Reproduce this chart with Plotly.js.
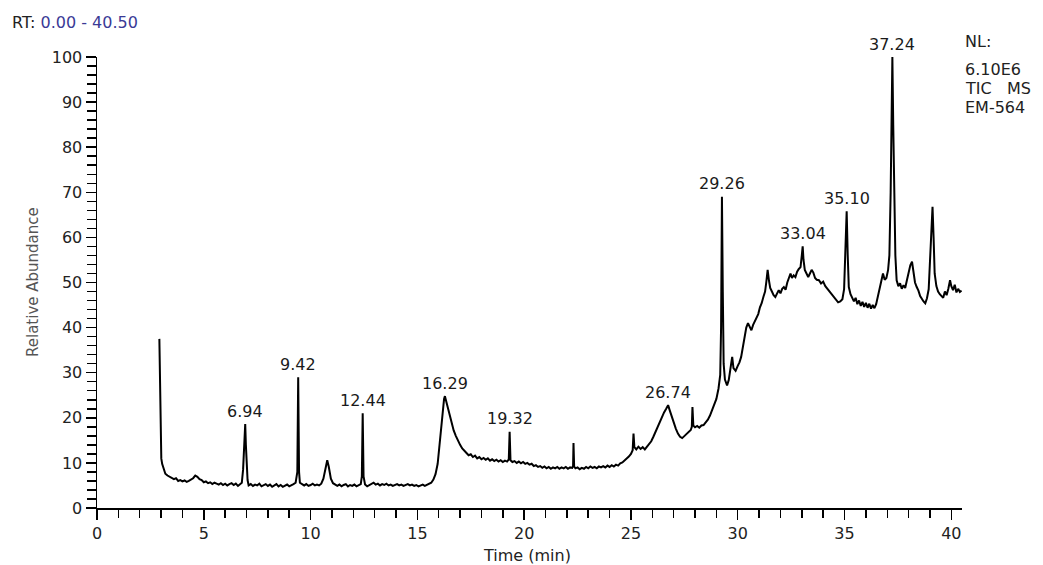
<!DOCTYPE html>
<html>
<head>
<meta charset="utf-8">
<script src="https://cdn.plot.ly/plotly-3.0.1.min.js"></script>
<style>
  html, body { margin: 0; padding: 0; background: #ffffff; }
  #chart { width: 1043px; height: 565px; }
</style>
</head>
<body>
<div id="chart"></div>
<script>
// Retention time (min) and relative abundance (%)
const rtTime = [
  2.92, 2.94, 2.96, 2.98, 3.01, 3.05, 3.10, 3.15, 3.20, 3.30, 3.40, 3.50, 3.60, 3.70, 3.80, 3.90,
  4.00, 4.10, 4.20, 4.30, 4.40, 4.50, 4.60, 4.70, 4.80, 4.90, 5.00, 5.10, 5.20, 5.30, 5.40, 5.50,
  5.60, 5.70, 5.80, 5.90, 6.00, 6.10, 6.20, 6.30, 6.40, 6.50, 6.60, 6.70, 6.78, 6.84, 6.88, 6.91,
  6.94, 6.97, 7.00, 7.05, 7.10, 7.20, 7.30, 7.40, 7.50, 7.60, 7.70, 7.80, 7.90, 8.00, 8.10, 8.20,
  8.30, 8.40, 8.50, 8.60, 8.70, 8.80, 8.90, 9.00, 9.10, 9.20, 9.30, 9.38, 9.42, 9.46, 9.50, 9.60,
  9.70, 9.80, 9.90, 10.00, 10.10, 10.20, 10.30, 10.40, 10.50, 10.60, 10.70, 10.78, 10.85, 10.95, 11.05, 11.15,
  11.25, 11.35, 11.45, 11.55, 11.65, 11.75, 11.85, 11.95, 12.05, 12.15, 12.25, 12.35, 12.40, 12.44, 12.48, 12.55,
  12.65, 12.75, 12.85, 12.95, 13.05, 13.15, 13.25, 13.35, 13.45, 13.55, 13.65, 13.75, 13.85, 13.95, 14.05, 14.15,
  14.25, 14.35, 14.45, 14.55, 14.65, 14.75, 14.85, 14.95, 15.05, 15.15, 15.25, 15.35, 15.45, 15.55, 15.65, 15.75,
  15.85, 15.95, 16.02, 16.08, 16.14, 16.20, 16.25, 16.29, 16.34, 16.40, 16.50, 16.60, 16.70, 16.80, 16.90, 17.00,
  17.10, 17.20, 17.30, 17.40, 17.50, 17.60, 17.70, 17.80, 17.90, 18.00, 18.10, 18.20, 18.30, 18.40, 18.50, 18.60,
  18.70, 18.80, 18.90, 19.00, 19.10, 19.20, 19.28, 19.32, 19.36, 19.45, 19.55, 19.65, 19.75, 19.85, 19.95, 20.05,
  20.15, 20.25, 20.35, 20.45, 20.55, 20.65, 20.75, 20.85, 20.95, 21.05, 21.15, 21.25, 21.35, 21.45, 21.55, 21.65,
  21.75, 21.85, 21.95, 22.05, 22.15, 22.25, 22.29, 22.31, 22.34, 22.40, 22.50, 22.60, 22.70, 22.80, 22.90, 23.00,
  23.10, 23.20, 23.30, 23.40, 23.50, 23.60, 23.70, 23.80, 23.90, 24.00, 24.10, 24.20, 24.30, 24.40, 24.50, 24.60,
  24.70, 24.80, 24.90, 25.00, 25.08, 25.12, 25.16, 25.25, 25.35, 25.45, 25.55, 25.65, 25.75, 25.85, 25.95, 26.05,
  26.15, 26.25, 26.35, 26.45, 26.55, 26.65, 26.74, 26.82, 26.90, 27.00, 27.10, 27.20, 27.30, 27.40, 27.50, 27.60,
  27.70, 27.80, 27.85, 27.88, 27.92, 28.00, 28.10, 28.20, 28.30, 28.40, 28.50, 28.60, 28.70, 28.80, 28.90, 29.00,
  29.10, 29.18, 29.22, 29.26, 29.30, 29.34, 29.40, 29.50, 29.58, 29.66, 29.74, 29.80, 29.90, 30.00, 30.08, 30.16,
  30.24, 30.32, 30.40, 30.48, 30.56, 30.64, 30.72, 30.80, 30.88, 30.96, 31.04, 31.12, 31.20, 31.28, 31.34, 31.40,
  31.46, 31.52, 31.60, 31.68, 31.76, 31.84, 31.92, 32.00, 32.08, 32.16, 32.24, 32.32, 32.40, 32.47, 32.54, 32.62,
  32.70, 32.78, 32.86, 32.94, 33.00, 33.04, 33.08, 33.14, 33.22, 33.30, 33.38, 33.46, 33.54, 33.62, 33.70, 33.80,
  33.90, 34.00, 34.10, 34.20, 34.30, 34.40, 34.50, 34.60, 34.70, 34.80, 34.90, 34.98, 35.03, 35.10, 35.15, 35.20,
  35.28, 35.36, 35.44, 35.52, 35.60, 35.68, 35.76, 35.84, 35.92, 36.00, 36.08, 36.16, 36.24, 36.32, 36.40, 36.48,
  36.56, 36.64, 36.72, 36.80, 36.88, 36.96, 37.04, 37.10, 37.16, 37.20, 37.24, 37.28, 37.32, 37.38, 37.44, 37.52,
  37.60, 37.68, 37.76, 37.84, 37.92, 38.00, 38.08, 38.16, 38.22, 38.30, 38.38, 38.46, 38.54, 38.62, 38.70, 38.78,
  38.86, 38.94, 39.00, 39.06, 39.12, 39.17, 39.22, 39.30, 39.38, 39.46, 39.54, 39.62, 39.70, 39.78, 39.86, 39.94,
  40.00, 40.08, 40.16, 40.24, 40.32, 40.40, 40.48
];
const relAbundance = [
  37.5, 30.0, 21.0, 14.0, 11.0, 9.8, 8.9, 8.2, 7.6, 7.2, 6.9, 6.6, 6.4, 6.6, 6.0, 6.2,
  5.9, 6.1, 5.8, 6.0, 6.3, 6.6, 7.2, 6.9, 6.4, 6.2, 5.7, 5.9, 5.5, 5.7, 5.3, 5.6,
  5.4, 5.2, 5.5, 5.1, 5.4, 5.0, 5.3, 5.5, 5.1, 5.4, 4.9, 5.2, 5.6, 8.5, 13.0, 16.0,
  18.6, 14.0, 9.0, 6.2, 5.0, 5.3, 4.9, 5.2, 5.0, 5.4, 4.8, 5.1, 5.3, 4.9, 5.2, 4.7,
  5.0, 5.3, 4.8, 5.1, 4.7, 4.9, 5.2, 4.8, 5.0, 5.3, 5.6, 8.0, 29.0, 8.0, 5.6, 5.2,
  5.0, 5.3, 4.9, 5.1, 5.4, 5.0, 5.2, 5.0, 5.4, 6.5, 9.0, 10.6, 9.2, 6.5, 5.5, 5.2,
  4.9, 5.2, 4.8, 5.1, 5.3, 4.8, 5.1, 4.9, 5.2, 4.8, 5.1, 5.3, 7.0, 21.0, 7.0, 5.2,
  4.8, 5.1, 5.3, 5.6, 5.2, 5.4, 5.0, 5.3, 5.1, 5.4, 5.0, 5.2, 4.9, 5.1, 5.3, 5.0,
  5.2, 4.9, 5.1, 5.3, 5.0, 5.2, 4.9, 5.1, 4.8, 5.0, 5.2, 4.9, 5.1, 5.3, 5.6, 6.3,
  7.5, 9.8, 13.0, 17.0, 20.0, 22.5, 24.2, 24.8, 23.8, 22.5, 20.5, 18.8, 17.2, 16.0, 14.8, 14.0,
  13.2, 12.6, 12.2, 11.7, 11.9, 11.3, 11.6, 11.0, 11.3, 10.8, 11.1, 10.7, 11.0, 10.5, 10.8, 10.4,
  10.7, 10.3, 10.6, 10.2, 10.5, 10.3, 10.8, 16.9, 10.6, 10.2, 10.4, 10.0, 10.3, 9.9, 10.2, 9.8,
  10.0, 9.6, 9.8, 9.3, 9.5, 9.1, 9.3, 8.9, 9.2, 8.8, 9.1, 8.7, 9.0, 8.8, 9.1, 8.7,
  9.0, 8.8, 9.1, 8.7, 9.0, 8.9, 9.3, 14.4, 9.2, 8.8, 9.0, 8.6, 8.9, 8.7, 9.1, 8.8,
  9.2, 8.9, 9.1, 8.8, 9.2, 9.0, 9.3, 9.0, 9.4, 9.1, 9.5, 9.2, 9.6, 9.4, 9.9, 10.1,
  10.5, 10.9, 11.4, 12.0, 12.8, 16.5, 13.5, 13.0, 13.6, 13.1, 13.5, 13.0, 13.6, 14.2, 14.8, 15.8,
  16.9, 18.2, 19.0, 20.3, 21.2, 22.0, 22.8, 21.6, 20.4, 19.0, 17.6, 16.5, 15.8, 15.5, 16.0, 16.4,
  16.8, 17.3, 18.0, 22.4, 18.3, 17.9, 18.2, 17.8, 18.3, 18.4, 19.0, 19.6, 20.5, 21.6, 22.8, 24.2,
  26.5, 29.5, 40.0, 69.0, 48.0, 32.0, 28.5, 27.2, 28.4, 30.5, 33.5, 31.0, 30.4, 31.5, 32.3, 33.5,
  35.8, 38.5, 40.0, 41.0, 40.2, 39.4, 40.6, 41.4, 42.1, 43.0, 44.5, 45.4, 46.8, 48.0, 50.2, 52.8,
  50.5, 48.8, 48.0, 47.2, 46.8, 47.5, 48.3, 47.6, 48.6, 49.0, 48.4, 50.0, 51.2, 52.0, 51.0, 51.6,
  51.2, 52.4, 53.0, 53.4, 56.0, 58.0, 55.0, 52.8, 52.0, 51.2, 52.0, 52.8, 52.2, 51.0, 50.6, 50.5,
  49.8, 50.2, 49.2, 48.6, 48.0, 47.2, 46.6, 46.1, 45.6, 45.8, 46.3, 48.5, 56.0, 65.8, 56.0, 49.0,
  47.4, 46.5, 45.8, 46.6, 45.2, 46.0, 44.8, 45.7, 44.6, 45.5, 44.4, 45.3, 44.2, 45.0, 44.3, 45.2,
  46.8, 48.5, 50.2, 52.0, 50.6, 51.0, 52.8, 56.0, 70.0, 85.0, 100.0, 85.0, 69.0, 56.0, 50.5, 49.2,
  49.8, 48.6, 49.4, 48.8, 50.5, 52.0, 53.8, 54.6, 52.5, 50.0, 49.0, 48.2, 47.0, 46.3, 45.8, 45.4,
  46.5, 48.5, 55.0, 62.0, 66.8, 60.0, 52.0, 49.2, 48.0, 47.4, 47.0, 46.6, 48.0, 47.2, 48.6, 50.5,
  49.2, 48.3, 49.5, 47.8, 48.6, 47.9, 48.2
];

// Labelled peaks
const peakRT = [6.94, 9.42, 12.44, 16.29, 19.32, 26.74, 29.26, 33.04, 35.10, 37.24];
const peakAbund = [18.6, 29.0, 21.0, 24.8, 16.9, 22.8, 69.0, 58.0, 65.8, 100.0];

// Header texts
const rtRangeLabel = "0.00 - 40.50";
const infoLines = ["NL:", "6.10E6", "TIC\u00a0\u00a0\u00a0MS", "EM-564"];
const infoLineY = [41.5, 69, 88.5, 107.5];  // pixel centres from top

const FONT = "DejaVu Sans, Arial, sans-serif";
const W = 1043, H = 565;
const L = 97, T = 57, B = 57;
const PW = 865, PH = H - T - B;
const R = W - L - PW;

const trace = {
  x: rtTime,
  y: relAbundance,
  type: "scatter",
  mode: "lines",
  line: { color: "#000000", width: 2 },
  hoverinfo: "x+y",
  showlegend: false
};

const annotations = [];
peakRT.forEach((rt, i) => {
  annotations.push({
    x: rt, y: peakAbund[i], xref: "x", yref: "y",
    text: rt.toFixed(2), showarrow: false,
    xanchor: "center", yanchor: "middle", yshift: 13,
    font: { family: FONT, size: 16, color: "#1a1a1a" }
  });
});
infoLines.forEach((t, i) => {
  annotations.push({
    x: (963 - L) / PW, y: (H - B - infoLineY[i]) / PH,
    xref: "paper", yref: "paper",
    text: t, showarrow: false, xanchor: "left", yanchor: "middle", align: "left",
    font: { family: FONT, size: 16, color: "#222222" }
  });
});
annotations.push({
  x: (32.5 - L) / PW, y: 0.5, xref: "paper", yref: "paper",
  text: "Relative Abundance", textangle: -90, showarrow: false,
  xanchor: "center", yanchor: "middle",
  font: { family: FONT, size: 15, color: "#555555" }
});
annotations.push({
  x: (527 - L) / PW, y: (H - B - 555) / PH, xref: "paper", yref: "paper",
  text: "Time (min)", showarrow: false, xanchor: "center", yanchor: "middle",
  font: { family: FONT, size: 16, color: "#222222" }
});

const layout = {
  width: W, height: H,
  margin: { l: L, r: R, t: T, b: B, pad: 0 },
  paper_bgcolor: "#ffffff", plot_bgcolor: "#ffffff",
  title: {
    text: "RT: <span style='color:#3a3a96'>" + rtRangeLabel + "</span>",
    xref: "container", yref: "container",
    x: 12 / W, xanchor: "left", y: 1 - 22 / H, yanchor: "middle",
    font: { family: FONT, size: 16, color: "#222222" }
  },
  xaxis: {
    range: [0, 40.5], showgrid: false, zeroline: false,
    showline: true, linecolor: "#000000", linewidth: 1.5,
    ticks: "outside", ticklen: 10, tickwidth: 1.5, tickcolor: "#000000",
    tick0: 0, dtick: 5,
    minor: { dtick: 1, ticks: "outside", ticklen: 8, tickwidth: 1.5, tickcolor: "#000000", showgrid: false },
    tickfont: { family: FONT, size: 16, color: "#222222" },
    fixedrange: true
  },
  yaxis: {
    range: [0, 100], showgrid: false, zeroline: false,
    showline: true, linecolor: "#000000", linewidth: 1.5,
    ticks: "outside", ticklen: 10, tickwidth: 1.5, tickcolor: "#000000",
    tick0: 0, dtick: 10,
    minor: { dtick: 2, ticks: "outside", ticklen: 9, tickwidth: 1.5, tickcolor: "#000000", showgrid: false },
    tickfont: { family: FONT, size: 16, color: "#222222" },
    fixedrange: true
  },
  annotations: annotations
};

Plotly.newPlot("chart", [trace], layout, { displayModeBar: false, staticPlot: true });
</script>
</body>
</html>
